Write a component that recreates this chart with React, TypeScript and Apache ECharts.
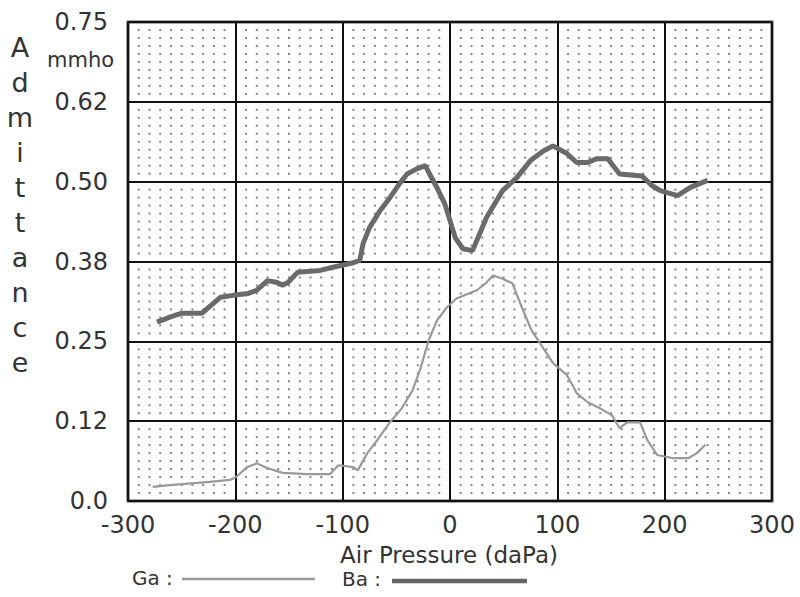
import React, { useEffect, useRef } from "react";
import * as echarts from "echarts";

const xTickLabels = ["-300", "-200", "-100", "0", "100", "200", "300"];
const yTickLabels = ["0.0", "0.12", "0.25", "0.38", "0.50", "0.62", "0.75"];

const baX = [-273, -261, -250, -231, -214, -202, -188, -180, -170, -161, -156, -151, -142, -121, -109, -90, -84, -81, -75, -65, -56, -47, -40, -31, -23, -19, -12, -5, 0, 5, 12, 21, 34, 49, 62, 75, 87, 96, 109, 118, 128, 137, 147, 158, 179, 188, 196, 212, 224, 240];
const baY = [0.280, 0.288, 0.294, 0.294, 0.319, 0.322, 0.325, 0.330, 0.345, 0.342, 0.338, 0.342, 0.358, 0.361, 0.366, 0.373, 0.377, 0.403, 0.428, 0.455, 0.475, 0.497, 0.512, 0.520, 0.525, 0.512, 0.490, 0.466, 0.439, 0.412, 0.395, 0.392, 0.444, 0.486, 0.506, 0.533, 0.548, 0.556, 0.544, 0.530, 0.530, 0.536, 0.536, 0.512, 0.509, 0.494, 0.486, 0.478, 0.491, 0.502];

const gaX = [-277, -261, -224, -205, -199, -189, -180, -171, -156, -133, -112, -104, -90, -86, -77, -68, -56, -45, -35, -28, -20, -12, -3, 6, 25, 34, 40, 49, 58, 67, 76, 87, 96, 109, 118, 128, 140, 151, 158, 165, 177, 184, 193, 208, 222, 230, 238];
const gaY = [0.022, 0.025, 0.030, 0.033, 0.038, 0.053, 0.059, 0.052, 0.044, 0.042, 0.042, 0.056, 0.053, 0.048, 0.075, 0.095, 0.123, 0.145, 0.173, 0.205, 0.251, 0.283, 0.303, 0.317, 0.330, 0.342, 0.353, 0.348, 0.341, 0.303, 0.267, 0.239, 0.216, 0.197, 0.169, 0.155, 0.145, 0.134, 0.114, 0.123, 0.123, 0.095, 0.072, 0.067, 0.067, 0.075, 0.088];

const dotXs: number[] = [];
for (let i = -29; i <= 29; i++) if (i % 10 !== 0) dotXs.push(i * 10);
const dotYs: number[] = [];
for (let j = 1; j < 60; j++) if (j % 10 !== 0) dotYs.push(j * 0.0125);

export default function App() {
  const ref = useRef<HTMLDivElement>(null);
  useEffect(() => {
    if (!ref.current) return;
    const chart = echarts.init(ref.current, null, { renderer: "svg" });
    const dots: number[][] = [];
    dotXs.forEach((x) => dotYs.forEach((y) => dots.push([x, y])));
    const font = "DejaVu Sans";
    chart.setOption({
      animation: false,
      backgroundColor: "#ffffff",
      grid: {
        left: 128,
        right: 28,
        top: 22,
        bottom: 96,
        show: true,
        borderColor: "#555",
        borderWidth: 3,
        backgroundColor: "transparent",
      },
      xAxis: {
        type: "value",
        min: -300,
        max: 300,
        interval: 100,
        axisLine: { show: false },
        axisTick: { show: false },
        splitLine: { show: true, lineStyle: { color: "#111", width: 2 } },
        axisLabel: {
          fontFamily: font,
          fontSize: 24,
          color: "#333",
          margin: 12,
          formatter: (v: number) => xTickLabels[Math.round((v + 300) / 100)],
        },
      },
      yAxis: {
        type: "value",
        min: 0,
        max: 0.75,
        interval: 0.125,
        axisLine: { show: false },
        axisTick: { show: false },
        splitLine: { show: true, lineStyle: { color: "#111", width: 2 } },
        axisLabel: {
          fontFamily: font,
          fontSize: 24,
          color: "#333",
          margin: 20,
          verticalAlign: "middle",
          padding: [0, 0, 7, 0],
          formatter: (v: number) => yTickLabels[Math.round(v / 0.125)],
        },
      },
      graphic: [
        {
          type: "text",
          left: 47,
          top: 49,
          style: { text: "mmho", fontFamily: font, fontSize: 21, fill: "#333" },
        },
        {
          type: "text",
          x: 20,
          y: 30,
          style: {
            text: "A\nd\nm\ni\nt\nt\na\nn\nc\ne",
            fontFamily: font,
            fontSize: 27,
            lineHeight: 35,
            fill: "#333",
            align: "center",
          },
        },
        {
          type: "text",
          x: 449,
          y: 555,
          style: {
            text: "Air Pressure (daPa)",
            fontFamily: font,
            fontSize: 23,
            fill: "#333",
            align: "center",
            verticalAlign: "middle",
          },
        },
        {
          type: "text",
          x: 132,
          y: 578,
          style: { text: "Ga :", fontFamily: font, fontSize: 20, fill: "#333", verticalAlign: "middle" },
        },
        {
          type: "line",
          shape: { x1: 182, y1: 579, x2: 315, y2: 579 },
          style: { stroke: "#999", lineWidth: 2.5 },
        },
        {
          type: "text",
          x: 342,
          y: 579,
          style: { text: "Ba :", fontFamily: font, fontSize: 20, fill: "#333", verticalAlign: "middle" },
        },
        {
          type: "line",
          shape: { x1: 392, y1: 581, x2: 527, y2: 581 },
          style: { stroke: "#666", lineWidth: 4.5 },
        },
      ],
      series: [
        {
          type: "scatter",
          data: dots,
          symbol: "rect",
          symbolSize: 2,
          itemStyle: { color: "#666" },
          silent: true,
          z: 1,
        },
        {
          name: "Ga",
          type: "line",
          data: gaX.map((x, i) => [x, gaY[i]]),
          showSymbol: false,
          lineStyle: { color: "#999", width: 2.2 },
          z: 3,
        },
        {
          name: "Ba",
          type: "line",
          data: baX.map((x, i) => [x, baY[i]]),
          showSymbol: false,
          lineStyle: { color: "#6a6a6a", width: 5 },
          z: 4,
        },
      ],
    });
    return () => chart.dispose();
  }, []);
  return (
    <div
      ref={ref}
      style={{ position: "fixed", left: 0, top: 0, width: 800, height: 597 }}
    />
  );
}
